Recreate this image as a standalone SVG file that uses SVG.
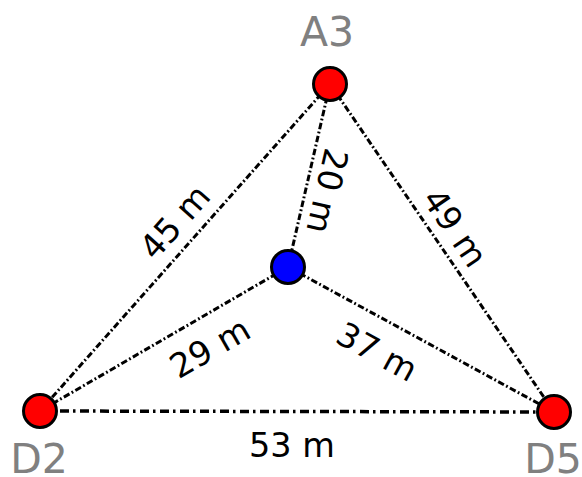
<svg xmlns="http://www.w3.org/2000/svg" width="582" height="477" viewBox="0 0 582 477">
<style>
.edge{stroke:#000;fill:none;stroke-width:3;stroke-dasharray:6.5 2.5 1.8 2.5}
.edge.thick{stroke-width:3.5;stroke-dasharray:9 4 2.5 4.5}
.node{stroke:#000;stroke-width:3}
.nlabel{font-family:"DejaVu Sans",sans-serif;font-size:41px;fill:#808080;text-anchor:middle}
.elabel{font-family:"DejaVu Sans",sans-serif;font-size:33.5px;fill:#000;text-anchor:middle;dominant-baseline:central}
</style>
<g id="connectors">
<line class="edge" x1="330" y1="84" x2="40" y2="411"/>
<line class="edge" x1="330" y1="84" x2="554" y2="412"/>
<line class="edge" x1="330" y1="84" x2="288" y2="267"/>
<line class="edge" x1="288" y1="267" x2="40" y2="411"/>
<line class="edge" x1="288" y1="267" x2="554" y2="412"/>
<line class="edge thick" x1="40" y1="411" x2="554" y2="412"/>
<text class="elabel" transform="translate(175,222) rotate(-48.3)">45 m</text>
<text class="elabel" transform="translate(327,191) rotate(103)">20 m</text>
<text class="elabel" transform="translate(455,228) rotate(55.7)">49 m</text>
<text class="elabel" transform="translate(210,348) rotate(-30)">29 m</text>
<text class="elabel" transform="translate(377,352) rotate(28.6)">37 m</text>
<text class="elabel" x="292" y="445">53 m</text>
</g>
<g id="A3">
<circle class="node" cx="330" cy="84" r="16.5" fill="#ff0000"/>
<text class="nlabel" x="327" y="46">A3</text>
</g>
<g id="D2">
<circle class="node" cx="40" cy="411" r="16.5" fill="#ff0000"/>
<text class="nlabel" x="39" y="473">D2</text>
</g>
<g id="D5">
<circle class="node" cx="554" cy="412" r="16.5" fill="#ff0000"/>
<text class="nlabel" x="553" y="473">D5</text>
</g>
<g id="center">
<circle class="node" cx="288" cy="267" r="16.5" fill="#0000ff"/>
</g>
</svg>
